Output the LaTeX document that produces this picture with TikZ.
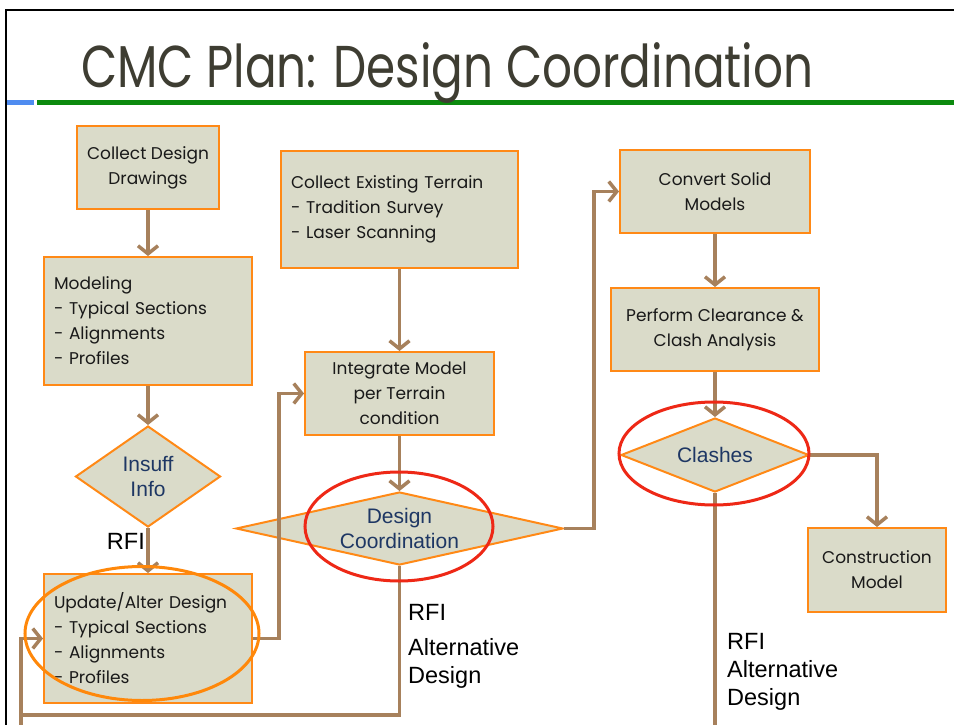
\documentclass[tikz,border=0pt]{standalone}
\usepackage{fontspec}
\setmainfont{Poppins}
\newfontfamily\titlefont[FakeStretch=0.795]{Poppins}
\newfontfamily\arialfont{Liberation Sans}
\usetikzlibrary{shapes.geometric,arrows.meta}

\definecolor{boxfill}{RGB}{218,219,201}
\definecolor{boxedge}{RGB}{255,137,22}
\definecolor{flowbrown}{RGB}{167,129,92}
\definecolor{ringred}{RGB}{238,40,22}
\definecolor{ringorange}{RGB}{255,136,10}
\definecolor{choicetext}{RGB}{30,55,100}
\definecolor{titlegray}{RGB}{62,61,50}
\definecolor{barblue}{RGB}{79,140,240}
\definecolor{bargreen}{RGB}{12,138,14}

\begin{document}
\begin{tikzpicture}[%
        x = 1pt, y = -1pt,
        box/.style = {draw = boxedge, fill = boxfill, line width = 2pt,
            inner sep = 0pt, align = center, text = black!90,
            font = \fontsize{17}{25}\selectfont},
        listbox/.style = {box, inner xsep = 10pt, align = left},
        decision/.style = {diamond, draw = boxedge, fill = boxfill,
            line width = 2pt, inner sep = 0pt},
        choice/.style = {align = center, text = choicetext,
            font = \arialfont\fontsize{21}{25}\selectfont},
        flow/.style = {draw = flowbrown, line width = 3.5pt,
            -{Straight Barb[length = 8pt, width = 20pt]}},
        ring/.style = {line width = 3pt},
        note/.style = {inner sep = 0pt, align = left,
            font = \arialfont\fontsize{23.5}{28}\selectfont}
    ]
        % Page size and background.
        \fill[white] (0, 0) rectangle (954, 725);
        \useasboundingbox (0, 0) rectangle (954, 725);

        % Frame and the bar under the title.
        \draw[line width = 2pt] (6, 725) -- (6, 10) -- (954, 10);
        \draw[barblue, line width = 5pt] (7, 103) -- (34, 103);
        \draw[bargreen, line width = 5pt] (37, 103) -- (954, 103);

        % Title.
        \node[anchor = base west, inner sep = 0pt, text = titlegray,
            font = \titlefont\fontsize{59}{59}\selectfont]
            (Title) at (81, 88) {CMC Plan: Design Coordination};

        % Left column: design drawings.
        \node[box, minimum width = 142, minimum height = 83]
            (Collect_Drawings) at (148, 167.5) {Collect Design\\Drawings};
        \node[listbox, text width = 188, minimum height = 128]
            (Modeling) at (148, 321)
            {Modeling\\- Typical Sections\\- Alignments\\- Profiles};
        \node[decision, minimum width = 145, minimum height = 101,
            label = {[choice]center:{Insuff\\Info}}]
            (Insuff_Info) at (148, 476.5) {};
        \node[listbox, text width = 188, minimum height = 129]
            (Update_Design) at (148, 638.5)
            {Update/Alter Design\\- Typical Sections\\- Alignments\\- Profiles};

        % Middle column: terrain.
        \node[listbox, text width = 217, minimum height = 117]
            (Collect_Terrain) at (399.5, 209.5)
            {Collect Existing Terrain\\- Tradition Survey\\- Laser Scanning};
        \node[box, minimum width = 189, minimum height = 83]
            (Integrate_Model) at (399.5, 393.5)
            {Integrate Model\\per Terrain\\condition};
        \node[decision, minimum width = 327, minimum height = 73,
            label = {[choice]center:{Design\\Coordination}}]
            (Design_Coord) at (399.5, 528.5) {};

        % Right column: clash detection.
        \node[box, minimum width = 190, minimum height = 83]
            (Convert_Models) at (715, 191.5) {Convert Solid\\Models};
        \node[box, minimum width = 208, minimum height = 83]
            (Clash_Analysis) at (715, 329.5)
            {Perform Clearance \&\\Clash Analysis};
        \node[decision, minimum width = 188, minimum height = 74,
            label = {[choice]center:{Clashes}}]
            (Clashes) at (715, 455) {};
        \node[box, minimum width = 138, minimum height = 84]
            (Construction_Model) at (877, 570) {Construction\\Model};

        % Free ends of the connectors at the bottom edge.
        \coordinate (Loop_Corner) at (21, 715);
        \coordinate (Loop_End) at (21, 725);
        \coordinate (Clash_End) at (715, 725);

        % Connectors.
        \draw[flow] (Collect_Drawings) -- (Modeling);
        \draw[flow] (Modeling) -- (Insuff_Info);
        \draw[flow] (Insuff_Info) -- (Update_Design);
        \draw[flow] (Update_Design.east) -- ++(26, 0) |- (Integrate_Model.west);
        \draw[flow] (Collect_Terrain) -- (Integrate_Model);
        \draw[flow] (Integrate_Model) -- (Design_Coord);
        \draw[flow] (Design_Coord.east) -- ++(30, 0) |- (Convert_Models.west);
        \draw[flow] (Convert_Models) -- (Clash_Analysis);
        \draw[flow] (Clash_Analysis) -- (Clashes);
        \draw[flow] (Clashes.east) -| (Construction_Model.north);
        \draw[flow, -] (Clashes.south) -- (Clash_End);
        \draw[flow] (Design_Coord.south) |- (Loop_Corner) |- (Update_Design.west);
        \draw[flow, -] (Loop_End) -- (Loop_Corner);

        % Labels on the connectors.
        \node[note, anchor = base east] (RFI_Info) at (145, 549) {RFI};
        \node[note, anchor = north west] (RFI_Coord) at (408, 604)
            {RFI\\[7pt]Alternative\\Design};
        \node[note, anchor = north west] (RFI_Clashes) at (727, 633)
            {RFI\\Alternative\\Design};

        % Rings round the key steps.
        \draw[ring, ringorange] (142, 633.5) ellipse (117 and 67);
        \draw[ring, ringred] (399, 526.5) ellipse (94 and 54.5);
        \draw[ring, ringred] (714, 453.5) ellipse (95 and 51.5);
    \end{tikzpicture}
\end{document}
